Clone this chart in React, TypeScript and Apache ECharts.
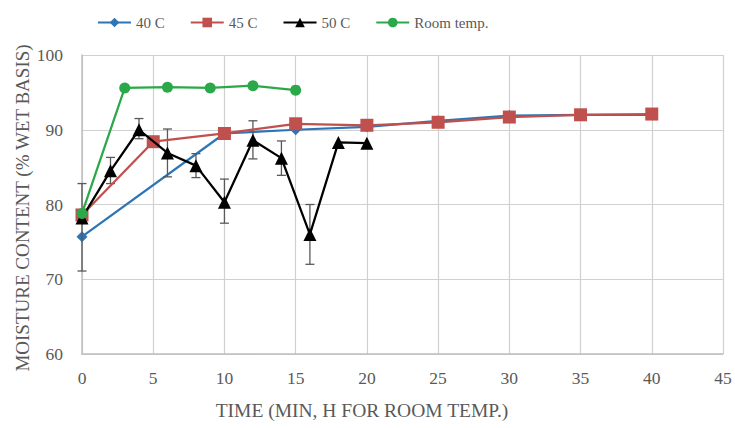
import React, { useEffect, useRef } from "react";
import * as echarts from "echarts";

const seriesNames = ["40 C", "45 C", "50 C", "Room temp."];
const xTicks = [0, 5, 10, 15, 20, 25, 30, 35, 40, 45];
const yTicks = [60, 70, 80, 90, 100];

const x40 = [0, 10, 15, 20, 25, 30, 35, 40];
const y40 = [75.7, 89.5, 90.0, 90.4, 91.2, 91.9, 92.0, 92.0];

const x45 = [0, 5, 10, 15, 20, 25, 30, 35, 40];
const y45 = [78.6, 88.4, 89.5, 90.8, 90.6, 91.0, 91.7, 92.0, 92.1];

const x50 = [0, 2, 4, 6, 8, 10, 12, 14, 16, 18, 20];
const y50 = [78.2, 84.5, 90.0, 86.9, 85.2, 80.3, 88.6, 86.2, 76.0, 88.3, 88.2];
const err50Low = [71.1, 82.8, 88.8, 83.7, 83.6, 77.5, 86.1, 83.9, 72.0, 88.3, 88.2];
const err50High = [82.8, 86.3, 91.5, 90.1, 86.8, 83.4, 91.2, 88.5, 80.0, 88.3, 88.2];

const xRoom = [0, 3, 6, 9, 12, 15];
const yRoom = [78.8, 95.6, 95.7, 95.6, 95.9, 95.3];

const xTitle = "TIME (MIN, H FOR ROOM TEMP.)";
const yTitle = "MOISTURE CONTENT (% WET BASIS)";

const colors = ["#2E75B6", "#C0504D", "#000000", "#2BA84A"];
const FONT = "Liberation Serif";
const TEXT = "#595959";

const pair = (xs: number[], ys: number[]) => xs.map((x, i) => [x, ys[i]]);

export default function App() {
  const ref = useRef<HTMLDivElement>(null);
  useEffect(() => {
    if (!ref.current) return;
    const chart = echarts.init(ref.current, null, { renderer: "svg" });
    const errData = x50.map((x, i) => [x, err50Low[i], err50High[i]]);
    chart.setOption({
      animation: false,
      color: colors,
      textStyle: { fontFamily: FONT },
      legend: {
        data: seriesNames,
        top: 10,
        left: 92,
        itemWidth: 33,
        itemHeight: 12,
        itemGap: 25,
        textStyle: { fontFamily: FONT, fontSize: 15, color: TEXT },
      },
      grid: { left: 82, right: 12, top: 55, bottom: 74 },
      xAxis: {
        type: "value",
        min: xTicks[0],
        max: xTicks[xTicks.length - 1],
        interval: 5,
        axisLine: { show: true, lineStyle: { color: "#BFBFBF", width: 1.5 } },
        axisTick: { show: false },
        splitLine: { show: true, lineStyle: { color: "#D0D0D0", width: 1.2 } },
        axisLabel: { fontFamily: FONT, fontSize: 17.5, color: TEXT, margin: 15 },
      },
      yAxis: {
        type: "value",
        min: yTicks[0],
        max: yTicks[yTicks.length - 1],
        interval: 10,
        axisLine: { show: true, lineStyle: { color: "#BFBFBF", width: 1.5 } },
        axisTick: { show: false },
        splitLine: { show: true, lineStyle: { color: "#D0D0D0", width: 1.2 } },
        axisLabel: { fontFamily: FONT, fontSize: 17.5, color: TEXT, margin: 19 },
      },
      graphic: [
        {
          type: "text",
          x: 362,
          y: 410,
          style: {
            text: xTitle,
            fontFamily: FONT,
            fontSize: 19.5,
            fill: TEXT,
            align: "center",
            verticalAlign: "middle",
          },
        },
        {
          type: "text",
          x: 22,
          y: 208,
          rotation: Math.PI / 2,
          style: {
            text: yTitle,
            fontFamily: FONT,
            fontSize: 19,
            fill: TEXT,
            align: "center",
            verticalAlign: "middle",
          },
        },
      ],
      series: [
        {
          name: "40 C",
          type: "line",
          data: pair(x40, y40),
          symbol: "diamond",
          symbolSize: 11,
          lineStyle: { width: 2.25, color: colors[0] },
          itemStyle: { color: colors[0] },
          z: 2,
        },
        {
          name: "45 C",
          type: "line",
          data: pair(x45, y45),
          symbol: "rect",
          symbolSize: 13,
          lineStyle: { width: 2.25, color: colors[1] },
          itemStyle: { color: colors[1] },
          z: 3,
        },
        {
          name: "err",
          type: "custom",
          data: errData,
          z: 3,
          renderItem: (params: any, api: any) => {
            const x = api.value(0);
            const lo = api.coord([x, api.value(1)]);
            const hi = api.coord([x, api.value(2)]);
            if (Math.abs(hi[1] - lo[1]) < 1) return { type: "group", children: [] };
            const w = 4.5;
            const st = { stroke: "#595959", lineWidth: 1.3 };
            return {
              type: "group",
              children: [
                { type: "line", shape: { x1: lo[0], y1: lo[1], x2: hi[0], y2: hi[1] }, style: st },
                { type: "line", shape: { x1: lo[0] - w, y1: lo[1], x2: lo[0] + w, y2: lo[1] }, style: st },
                { type: "line", shape: { x1: hi[0] - w, y1: hi[1], x2: hi[0] + w, y2: hi[1] }, style: st },
              ],
            };
          },
        },
        {
          name: "50 C",
          type: "line",
          data: pair(x50, y50),
          symbol: "triangle",
          symbolSize: 13,
          lineStyle: { width: 2.25, color: colors[2] },
          itemStyle: { color: colors[2] },
          z: 4,
        },
        {
          name: "Room temp.",
          type: "line",
          data: pair(xRoom, yRoom),
          symbol: "circle",
          symbolSize: 11,
          lineStyle: { width: 2.25, color: colors[3] },
          itemStyle: { color: colors[3] },
          z: 5,
        },
      ],
    });
    return () => chart.dispose();
  }, []);
  return <div ref={ref} style={{ width: 735, height: 428, position: "absolute", left: 0, top: 0 }} />;
}
